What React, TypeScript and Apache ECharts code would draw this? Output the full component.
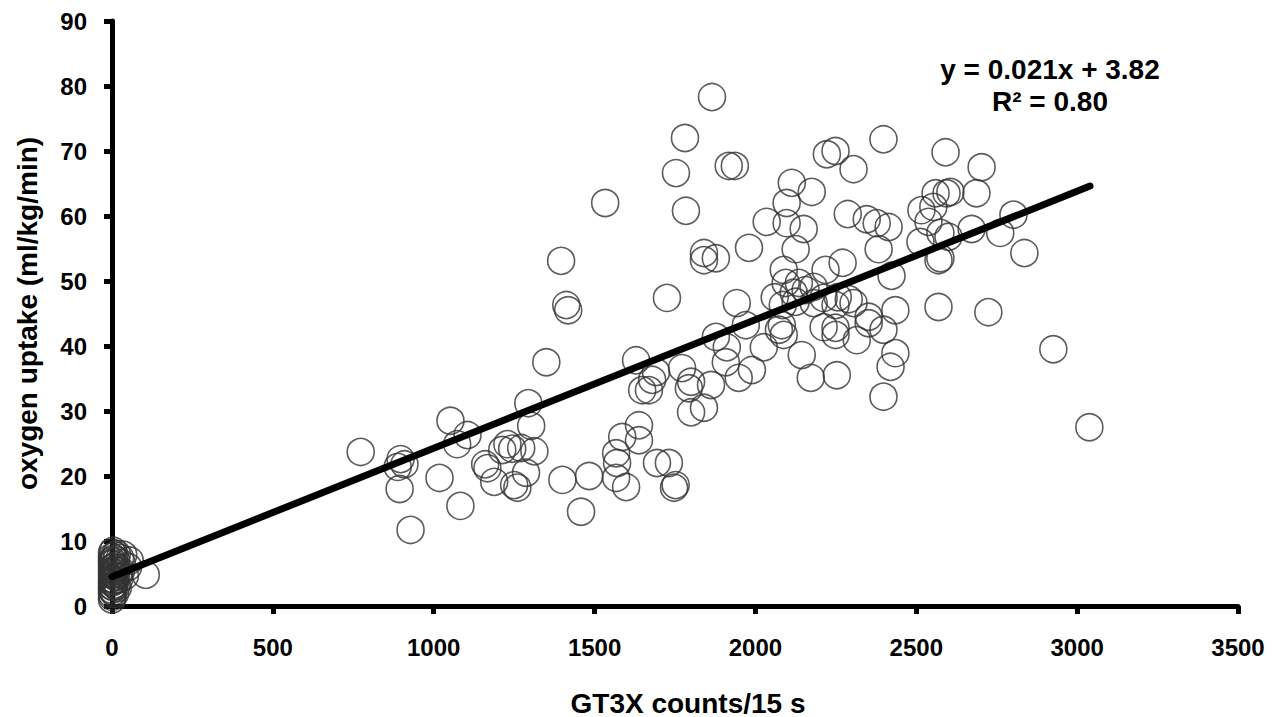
import React, { useEffect, useRef } from "react";
import * as echarts from "echarts";

const xTickLabels = ["0", "500", "1000", "1500", "2000", "2500", "3000", "3500"];
const yTickLabels = ["0", "10", "20", "30", "40", "50", "60", "70", "80", "90"];

// Points recorded near zero counts (sedentary)
const restPoints: [number, number][] = [
  [0, 1.0], [0, 1.8], [0, 2.5], [0, 3.0], [0, 3.6], [0, 4.2], [0, 4.8], [0, 5.3],
  [0, 5.9], [0, 6.5], [0, 7.0], [0, 7.6], [0, 8.2], [3, 2.2], [4, 4.0], [5, 5.6],
  [6, 7.3], [8, 3.3], [10, 6.2], [12, 4.5], [15, 8.0], [18, 2.8], [20, 5.0],
  [25, 7.4], [30, 6.6], [40, 4.6], [50, 6.0], [55, 7.0], [105, 4.8],
  [1, 1.4], [2, 3.8], [2, 6.8], [3, 5.0], [4, 8.5], [5, 2.9], [6, 4.6], [7, 6.0],
  [8, 7.8], [9, 1.9], [10, 3.9], [11, 5.4], [13, 7.0], [14, 3.1], [16, 5.8],
  [22, 4.1], [28, 5.4], [35, 7.9],
];

// Points recorded during activity
const activePoints: [number, number][] = [
  [773, 23.7], [897, 22.6], [888, 21.4], [909, 21.8], [894, 18.0], [928, 11.7],
  [1018, 19.7], [1083, 15.4], [1052, 28.5], [1105, 26.3], [1073, 24.9],
  [1160, 21.8], [1167, 21.2], [1188, 19.1], [1213, 24.0], [1229, 24.9], [1244, 24.2],
  [1272, 24.3], [1313, 23.8], [1287, 20.5], [1250, 18.6], [1260, 18.2],
  [1294, 31.2], [1303, 27.7], [1350, 37.5], [1400, 19.4], [1483, 20.0], [1458, 14.5],
  [1567, 19.7], [1598, 18.3], [1567, 23.5], [1586, 26.0], [1570, 22.0], [1638, 27.8],
  [1629, 37.8], [1648, 33.2], [1396, 53.1], [1412, 46.3], [1418, 45.5], [1533, 62.0],
  [1865, 78.3], [1781, 72.0], [1753, 66.6], [1917, 67.7], [1936, 67.7], [1784, 60.8],
  [1840, 54.3], [1877, 53.5], [1840, 53.2], [1980, 55.1], [1725, 47.4], [1942, 46.6],
  [2222, 69.5], [2249, 70.0], [2305, 67.2], [2398, 71.8], [2591, 69.8],
  [2113, 65.1], [2175, 63.7], [2097, 62.0], [2035, 59.1], [2097, 58.9], [2150, 58.0],
  [2125, 54.9], [2287, 60.3], [2346, 59.5], [2377, 58.9], [2414, 58.3], [2383, 54.9],
  [2271, 52.8], [2218, 51.7], [2088, 51.7], [2094, 49.7], [2135, 49.7], [2156, 48.6],
  [2181, 49.1], [2212, 47.4], [2256, 47.5], [2290, 47.2], [2060, 47.5], [2085, 46.3],
  [2119, 48.2], [2125, 46.8], [2423, 50.8], [2352, 44.5], [2435, 45.5], [2569, 46.0],
  [2516, 60.9], [2553, 61.4], [2560, 63.5], [2594, 63.5], [2606, 63.7], [2569, 53.2],
  [2513, 56.0], [2538, 59.1], [2575, 57.4], [2703, 67.5], [2687, 63.5], [2600, 56.8],
  [2672, 58.0], [2761, 57.4], [2802, 60.2], [2836, 54.3], [2575, 53.5], [2724, 45.2],
  [2926, 39.5], [3038, 27.5], [2181, 46.6], [2249, 46.3], [2305, 46.6],
  [1691, 36.0], [1679, 34.8], [1669, 33.2], [1772, 36.6], [1800, 34.5], [1793, 33.5],
  [1862, 34.0], [1800, 29.8], [1840, 30.5], [1877, 41.4], [1911, 39.8], [1908, 37.5],
  [1948, 35.1], [1970, 43.2], [1989, 36.3], [2026, 39.8], [2073, 42.5], [2082, 43.2],
  [2088, 41.7], [2144, 38.6], [2172, 35.1], [2253, 35.5], [2212, 42.9], [2249, 42.8],
  [2249, 41.7], [2315, 40.9], [2352, 43.5], [2398, 42.5], [2435, 38.9], [2420, 36.8],
  [2398, 32.2], [1638, 25.5], [1694, 22.0], [1731, 22.0], [1747, 18.2], [1752, 18.6],
];

// Linear trend line end points
const trendLine: [number, number][] = [
  [0, 4.5],
  [3040, 64.6],
];

const equationLines = ["y = 0.021x + 3.82", "R\u00b2 = 0.80"];

const FONT = "'Liberation Sans', Arial, Helvetica, sans-serif";

export default function App() {
  const ref = useRef<HTMLDivElement>(null);

  useEffect(() => {
    if (!ref.current) return;
    const chart = echarts.init(ref.current, undefined, { renderer: "svg" });
    chart.setOption({
      animation: false,
      backgroundColor: "#ffffff",
      grid: {
        left: 112,
        right: 44,
        top: 21,
        bottom: 111,
        containLabel: false,
        outerBoundsMode: "none",
      },
      xAxis: {
        type: "value",
        min: 0,
        max: 3500,
        interval: 500,
        name: "GT3X counts/15 s",
        nameLocation: "middle",
        nameGap: 83,
        nameTextStyle: {
          fontFamily: FONT,
          fontWeight: "bold",
          fontSize: 28,
          color: "#000",
          padding: [0, 0, 0, 26],
        },
        axisLine: { show: true, onZero: false, lineStyle: { color: "#000", width: 5 } },
        axisTick: { show: true, length: 8, lineStyle: { color: "#000", width: 5 } },
        splitLine: { show: false },
        axisLabel: {
          margin: 29,
          fontFamily: FONT,
          fontWeight: "bold",
          fontSize: 24,
          color: "#000",
          formatter: (v: number) => xTickLabels[Math.round(v / 500)] ?? String(v),
        },
      },
      yAxis: {
        type: "value",
        min: 0,
        max: 90,
        interval: 10,
        name: "oxygen uptake (ml/kg/min)",
        nameLocation: "middle",
        nameGap: 71,
        nameRotate: 90,
        nameTextStyle: {
          fontFamily: FONT,
          fontWeight: "bold",
          fontSize: 28,
          color: "#000",
        },
        axisLine: { show: true, onZero: false, lineStyle: { color: "#000", width: 5 } },
        axisTick: { show: true, length: 8, lineStyle: { color: "#000", width: 5 } },
        splitLine: { show: false },
        axisLabel: {
          margin: 25,
          fontFamily: FONT,
          fontWeight: "bold",
          fontSize: 24,
          color: "#000",
          formatter: (v: number) => yTickLabels[Math.round(v / 10)] ?? String(v),
        },
      },
      series: [
        {
          type: "scatter",
          data: [...restPoints, ...activePoints],
          symbol: "circle",
          symbolSize: 27,
          itemStyle: {
            color: "rgba(255,255,255,0)",
            borderColor: "#333333",
            borderWidth: 1.6,
          },
          emphasis: { disabled: true },
          z: 2,
        },
        {
          type: "line",
          data: trendLine,
          symbol: "none",
          lineStyle: { color: "#000", width: 7, cap: "round" },
          z: 3,
        },
      ],
      graphic: equationLines.map((t, i) => ({
        type: "text",
        x: 1050,
        y: 69 + i * 32,
        z: 10,
        style: {
          text: t,
          fontFamily: FONT,
          fontWeight: "bold",
          fontSize: 28,
          fill: "#000",
          textAlign: "center",
          textVerticalAlign: "middle",
        },
      })),
    });
    return () => chart.dispose();
  }, []);

  return <div ref={ref} style={{ width: 1282, height: 717, position: "absolute", left: 0, top: 0 }} />;
}
